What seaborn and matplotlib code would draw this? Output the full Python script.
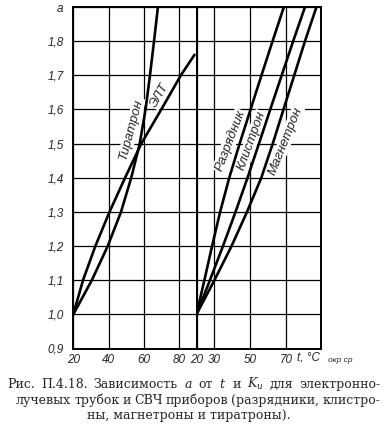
import matplotlib
matplotlib.use("Agg")
import matplotlib.pyplot as plt
import seaborn as sns

# ---- data ----
a_levels = [1.0, 1.1, 1.2, 1.3, 1.4, 1.5, 1.6, 1.7, 1.8, 1.9]
# left panel
t_tiratron = [20, 30.5, 39.5, 47.0, 52.8, 57.6, 60.9, 63.4, 65.7, 67.9]
a_elt = [1.0, 1.1, 1.2, 1.3, 1.4, 1.5, 1.6, 1.7, 1.76]
t_elt = [20, 25.5, 32.5, 40.5, 49.3, 58.5, 69.8, 80.9, 88.6]
# right panel
t_razr = [20, 24.4, 28.7, 33.2, 38.3, 44.1, 50.2, 56.3, 62.5, 68.8]
t_klis = [20, 27.5, 34.8, 41.8, 48.5, 54.9, 61.2, 67.6, 74.0, 80.6]
t_magn = [20, 30.0, 39.6, 48.2, 56.2, 62.6, 68.6, 74.6, 80.6, 87.0]

y_ticks = [0.9, 1.0, 1.1, 1.2, 1.3, 1.4, 1.5, 1.6, 1.7, 1.8, 1.9]
y_ticklabels = ["0,9", "1,0", "1,1", "1,2", "1,3", "1,4", "1,5", "1,6", "1,7", "1,8", "a"]
x_ticks_left = [20, 40, 60, 80]
x_ticks_right = [20, 30, 50, 70]
caption = ["Рис. П.4.18. Зависимость $a$ от $t$ и $K_{и}$ для электронно-",
           "лучевых трубок и СВЧ приборов (разрядники, клистро-",
           "ны, магнетроны и тиратроны)."]

sns.set_style("white")
plt.rcParams["font.family"] = ["Liberation Sans", "DejaVu Sans"]
plt.rcParams["mathtext.fontset"] = "dejavuserif"

W, H = 386, 434
fig = plt.figure(figsize=(W / 100, H / 100), dpi=100)
L, M, R = 73.3 / W, 196.5 / W, 320.5 / W
B, T = 1 - 348.5 / H, 1 - 7 / H
ax1 = fig.add_axes([L, B, M - L, T - B])
ax2 = fig.add_axes([M, B, R - M, T - B])

ax1.set_xlim(20, 89.74)
ax2.set_xlim(20, 89.27)
for ax in (ax1, ax2):
    ax.set_ylim(0.9, 1.9)
    ax.set_yticks(y_ticks)
    ax.set_axisbelow(True)
    ax.grid(True, color="black", lw=0.9)
    for s in ax.spines.values():
        s.set_color("black")
        s.set_linewidth(1.4)
    ax.tick_params(length=0, labelsize=8.5, pad=4)

ax1.set_xticks(x_ticks_left)
ax1.set_xticklabels([str(v) for v in x_ticks_left], style="italic")
ax1.set_yticklabels(y_ticklabels, style="italic")
ax1.tick_params(axis="y", pad=7)
ax2.set_xticks(x_ticks_right)
ax2.set_xticklabels([str(v) for v in x_ticks_right], style="italic")
ax2.set_yticklabels([])

kw = dict(color="black", lw=1.9, sort=False, estimator=None, zorder=4)
sns.lineplot(x=t_tiratron, y=a_levels, ax=ax1, **kw)
sns.lineplot(x=t_elt, y=a_elt, ax=ax1, **kw)
sns.lineplot(x=t_razr, y=a_levels, ax=ax2, **kw)
sns.lineplot(x=t_klis, y=a_levels, ax=ax2, **kw)
sns.lineplot(x=t_magn, y=a_levels, ax=ax2, **kw)
for ax in (ax1, ax2):
    ax.set_xlabel("")
    ax.set_ylabel("")

box = dict(facecolor="white", edgecolor="none", pad=0.5)
tkw = dict(style="italic", fontsize=9.5, ha="center", va="center",
           rotation_mode="anchor", zorder=3, bbox=box)
ax1.text(53.0, 1.543, "Тиратрон", rotation=75, **tkw)
ax1.text(68.8, 1.640, "ЭЛТ", rotation=60, **tkw)
ax2.text(38.6, 1.508, "Разрядник", rotation=69, **tkw)
ax2.text(50.6, 1.508, "Клистрон", rotation=70, **tkw)
ax2.text(69.6, 1.508, "Магнетрон", rotation=68, **tkw)

fig.text(297 / W, 1 - 358 / H, "t, °C", style="italic", fontsize=8.5, va="center", ha="left")
fig.text(328 / W, 1 - 361 / H, "окр ср", style="italic", fontsize=6, va="center", ha="left")

# ---- caption (lines 1-2 justified, line 3 centred) ----
ckw = dict(family="DejaVu Serif", fontsize=9, va="baseline", ha="left")
renderer = fig.canvas.get_renderer()


def justified(line, x0, x1, ybase):
    words = line.split(" ")
    arts, widths = [], []
    for w in words:
        t = fig.text(0, 1 - ybase / H, w, **ckw)
        widths.append(t.get_window_extent(renderer).width)
        arts.append(t)
    gap = (x1 - x0 - sum(widths)) / (len(words) - 1)
    x = x0
    for t, wd in zip(arts, widths):
        t.set_x(x / W)
        x += wd + gap


justified(caption[0], 7, 380, 388)
justified(caption[1], 16, 380, 404)
ckw3 = dict(ckw)
ckw3["ha"] = "center"
fig.text(189 / W, 1 - 419 / H, caption[2], **ckw3)

fig.savefig("out.png", dpi=100, facecolor="white")
